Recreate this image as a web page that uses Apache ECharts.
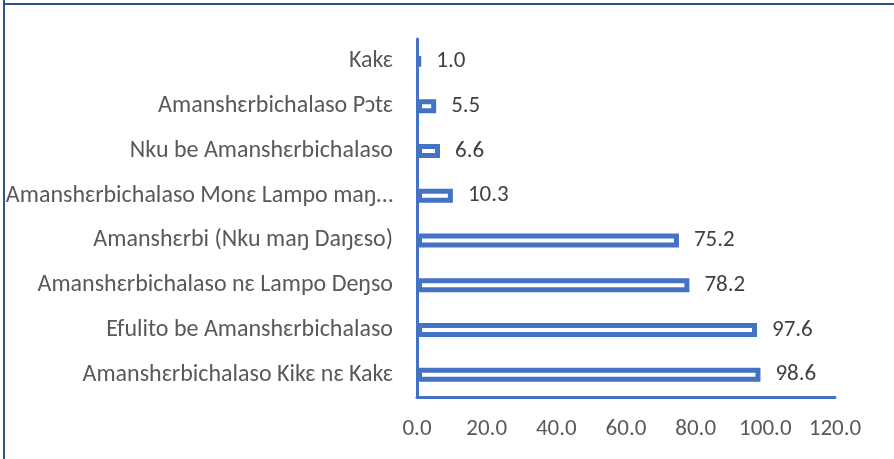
<!DOCTYPE html>
<html>
<head>
<meta charset="utf-8">
<script src="https://cdn.jsdelivr.net/npm/echarts@6/dist/echarts.min.js"></script>
<style>
html,body{margin:0;padding:0;background:#fff;}
#c{width:894px;height:459px;}
</style>
</head>
<body>
<div id="c"></div>
<script>
const categories = [
  "Kakɛ",
  "Amanshɛrbichalaso Pɔtɛ",
  "Nku be Amanshɛrbichalaso",
  "Amanshɛrbichalaso Monɛ Lampo maŋ…",
  "Amanshɛrbi (Nku maŋ Daŋɛso)",
  "Amanshɛrbichalaso nɛ Lampo Deŋso",
  "Efulito be Amanshɛrbichalaso",
  "Amanshɛrbichalaso Kikɛ nɛ Kakɛ"
];
const values = [1.0, 5.5, 6.6, 10.3, 75.2, 78.2, 97.6, 98.6];
const xTicks = [0, 20, 40, 60, 80, 100, 120];

const FONT = "Carlito, Calibri, 'Noto Sans', sans-serif";
const chart = echarts.init(document.getElementById('c'));
chart.setOption({
  animation: false,
  backgroundColor: '#fff',
  grid: { left: 417, right: 59, top: 39, bottom: 62, containLabel: false },
  xAxis: {
    type: 'value',
    min: xTicks[0], max: xTicks[xTicks.length - 1], interval: 20,
    axisLine: { show: true, lineStyle: { color: '#4472C4', width: 3 } },
    axisTick: { show: false },
    splitLine: { show: false },
    axisLabel: {
      color: '#595959', fontSize: 23, fontFamily: FONT, margin: 21,
      formatter: v => v.toFixed(1)
    }
  },
  yAxis: {
    type: 'category',
    data: categories,
    inverse: true,
    axisLine: { show: true, lineStyle: { color: '#4472C4', width: 3 } },
    axisTick: { show: false },
    axisLabel: { color: '#595959', fontSize: 24, fontFamily: FONT, margin: 24 }
  },
  series: [{
    type: 'bar',
    data: values,
    barWidth: 14,
    itemStyle: { color: '#ffffff', borderColor: '#4472C4', borderWidth: 5 },
    label: {
      show: true, position: 'right', distance: 15,
      color: '#404040', fontSize: 23, fontFamily: FONT,
      formatter: p => p.value.toFixed(1)
    }
  }],
  graphic: [
    { type: 'line', shape: { x1: 4, y1: 0, x2: 4, y2: 459 }, style: { stroke: '#2F528F', lineWidth: 2 } },
    { type: 'line', shape: { x1: 4, y1: 4, x2: 894, y2: 4 }, style: { stroke: '#2F528F', lineWidth: 2 } }
  ]
});
</script>
</body>
</html>
